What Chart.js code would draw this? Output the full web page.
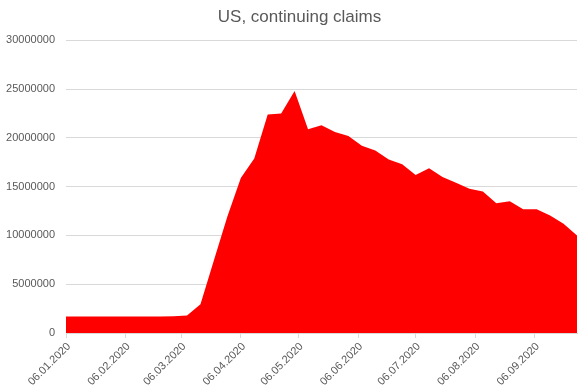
<!DOCTYPE html>
<html>
<head>
<meta charset="utf-8">
<script src="https://cdn.jsdelivr.net/npm/chart.js@4/dist/chart.umd.min.js"></script>
<style>
html,body{margin:0;padding:0;background:#fff;}
#wrap{width:581px;height:392px;position:relative;}
</style>
</head>
<body>
<div id="wrap"><canvas id="c" width="581" height="392"></canvas></div>
<script>
const titleText = "US, continuing claims";
const weekDates = [
  "2020-01-06","2020-01-13","2020-01-20","2020-01-27","2020-02-03","2020-02-10","2020-02-17","2020-02-24",
  "2020-03-02","2020-03-09","2020-03-16","2020-03-23","2020-03-30","2020-04-06","2020-04-13","2020-04-20",
  "2020-04-27","2020-05-04","2020-05-11","2020-05-18","2020-05-25","2020-06-01","2020-06-08","2020-06-15",
  "2020-06-22","2020-06-29","2020-07-06","2020-07-13","2020-07-20","2020-07-27","2020-08-03","2020-08-10",
  "2020-08-17","2020-08-24","2020-08-31","2020-09-07","2020-09-14","2020-09-21","2020-09-28"
];
const claims = [
  1700000,1700000,1700000,1700000,1700000,1700000,1700000,1700000,
  1720000,1800000,2950000,7450000,11950000,15900000,17900000,22400000,
  22500000,24800000,20900000,21300000,20600000,20200000,19200000,18700000,
  17800000,17300000,16200000,16900000,16000000,15400000,14800000,14500000,
  13300000,13500000,12700000,12700000,12050000,11200000,10000000
];
const tickDates = ["2020-01-06","2020-02-06","2020-03-06","2020-04-06","2020-05-06","2020-06-06","2020-07-06","2020-08-06","2020-09-06"];
const tickLabels = ["06.01.2020","06.02.2020","06.03.2020","06.04.2020","06.05.2020","06.06.2020","06.07.2020","06.08.2020","06.09.2020"];
const yMax = 30000000, yStep = 5000000;

const DAY = 86400000;
const origin = Date.parse(weekDates[0] + "T00:00:00Z");
const toDay = s => Math.round((Date.parse(s + "T00:00:00Z") - origin) / DAY);
const points = weekDates.map((d, i) => ({x: toDay(d), y: claims[i]}));
const tickDays = tickDates.map(toDay);

const titleShift = {
  id: 'titleShift',
  afterLayout(chart) {
    if (chart.titleBlock) { chart.titleBlock.left = 18; chart.titleBlock.right = 581; }
  }
};

new Chart(document.getElementById('c'), {
  type: 'line',
  data: {
    datasets: [{
      data: points,
      backgroundColor: '#ff0000',
      borderColor: '#ff0000',
      borderWidth: 0,
      pointRadius: 0,
      fill: 'origin',
      tension: 0
    }]
  },
  plugins: [titleShift],
  options: {
    responsive: false,
    animation: false,
    events: [],
    layout: {padding: {left: 0, right: 4, top: 0, bottom: 0}},
    plugins: {
      legend: {display: false},
      tooltip: {enabled: false},
      title: {
        display: true,
        text: titleText,
        color: '#595959',
        font: {family: 'Liberation Sans', size: 17, weight: 'normal'},
        padding: {top: 7, bottom: 13}
      }
    },
    scales: {
      x: {
        type: 'linear',
        min: 0,
        max: toDay(weekDates[weekDates.length - 1]),
        afterBuildTicks: s => { s.ticks = tickDays.map(v => ({value: v})); },
        afterFit: s => { s.height = 59; },
        ticks: {
          autoSkip: false,
          minRotation: 45,
          maxRotation: 45,
          labelOffset: 3,
          color: '#595959',
          font: {family: 'Liberation Sans', size: 11},
          padding: 2,
          callback: (v, i) => tickLabels[i]
        },
        grid: {drawOnChartArea: false, drawTicks: true, tickLength: 5, color: '#d9d9d9'},
        border: {display: true, color: '#d9d9d9'}
      },
      y: {
        min: 0,
        max: yMax,
        afterFit: s => { s.width = 66; },
        ticks: {
          stepSize: yStep,
          color: '#595959',
          font: {family: 'Liberation Sans', size: 11},
          padding: 11,
          callback: v => String(v)
        },
        grid: {color: '#d9d9d9', drawTicks: false},
        border: {display: false}
      }
    }
  }
});
</script>
</body>
</html>
